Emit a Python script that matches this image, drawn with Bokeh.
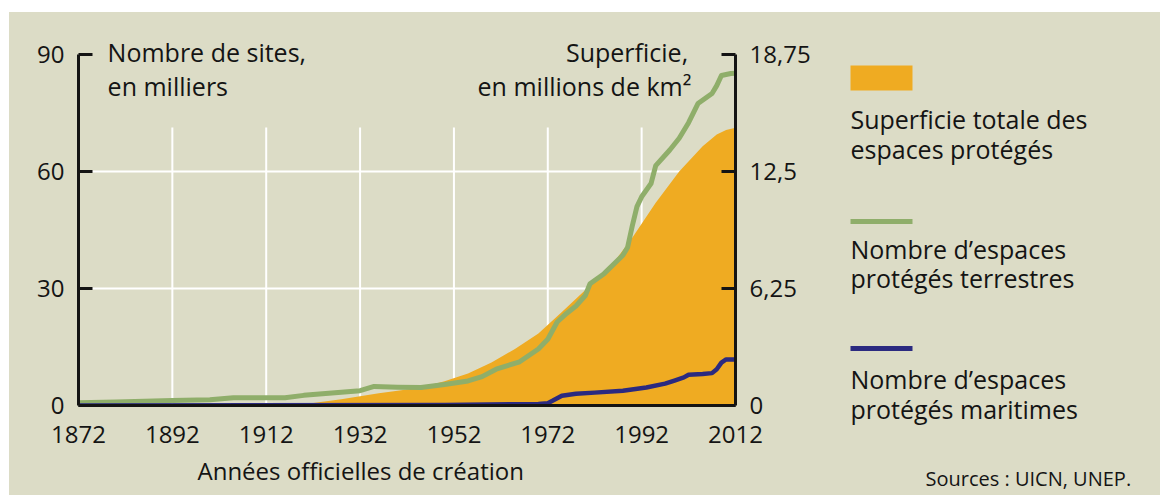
from bokeh.plotting import figure
from bokeh.models import (Range1d, LinearAxis, FixedTicker, Label, Spacer, Grid, Title)
from bokeh.layouts import row, column
from bokeh.embed import file_html
from bokeh.resources import INLINE

# ---------------- data ----------------
area_years = [1872, 1900, 1915, 1922, 1928, 1932, 1936, 1940, 1945, 1950, 1955, 1960, 1965,
              1970, 1975, 1980, 1985, 1990, 1995, 2000, 2005, 2008, 2010, 2012]
area_mkm2 = [0.0, 0.02, 0.06, 0.13, 0.33, 0.50, 0.65, 0.79, 0.96, 1.29, 1.71, 2.29, 3.02,
             3.85, 5.00, 6.17, 7.29, 8.96, 10.83, 12.50, 13.85, 14.48, 14.71, 14.83]

terr_years = [1872, 1880, 1892, 1900, 1905, 1916, 1920, 1926, 1932, 1935, 1940, 1945, 1950,
              1955, 1958, 1961, 1966, 1970, 1972, 1974, 1976, 1978, 1980, 1981, 1984, 1988,
              1989, 1990, 1991, 1992, 1994, 1995, 1998, 2000, 2002, 2004, 2007, 2008, 2009,
              2011, 2012]
terr_k = [0.7, 0.9, 1.3, 1.5, 2.0, 2.0, 2.6, 3.2, 3.8, 4.9, 4.7, 4.6, 5.4,
          6.3, 7.4, 9.3, 11.2, 14.5, 17.0, 21.4, 23.6, 25.5, 28.2, 31.2, 33.8, 38.5,
          40.5, 46.0, 51.0, 53.5, 56.9, 61.5, 65.5, 68.5, 72.5, 77.4, 80.0, 82.0, 84.6,
          85.1, 85.2]

mar_years = [1872, 1950, 1970, 1972, 1973, 1975, 1978, 1982, 1988, 1993, 1997, 1999, 2001,
             2002, 2005, 2007, 2008, 2009, 2010, 2012]
mar_k = [0.0, 0.1, 0.4, 0.6, 1.2, 2.5, 3.0, 3.3, 3.8, 4.6, 5.6, 6.4, 7.2,
         7.9, 8.1, 8.3, 9.3, 11.0, 11.8, 11.8]

year_ticks = [1872, 1892, 1912, 1932, 1952, 1972, 1992, 2012]
left_ticks = [0, 30, 60, 90]
right_ticks = [0, 6.25, 12.5, 18.75]
right_labels = ["0", "6,25", "12,5", "18,75"]
km2_per_k = 18.75 / 90.0

legend_texts = [["Superficie totale des", "espaces protégés"],
                ["Nombre d\u2019espaces", "protégés terrestres"],
                ["Nombre d\u2019espaces", "protégés maritimes"]]

# ---------------- style ----------------
BG = "#dcdcc6"
ORANGE = "#efab22"
GREEN = "#8fae6a"
BLUE = "#2b2a80"
INK = "#141414"
FONT = "Open Sans"
FS = "25px"
TICK_FS = "24px"

Y_TOP = 94.6  # headroom above the 90 tick for the axis captions

p = figure(width=811, height=483, output_backend="svg", toolbar_location=None,
           x_range=Range1d(1872, 2012), y_range=Range1d(0, Y_TOP),
           min_border_left=69, min_border_right=85, min_border_top=24, min_border_bottom=90,
           x_axis_type=None, y_axis_type=None)
p.title.visible = False
p.background_fill_color = BG
p.border_fill_color = BG
p.outline_line_color = None
p.extra_y_ranges = {"km2": Range1d(0, Y_TOP * km2_per_k)}

# vertical grid segments (only up to a limited height)
gx = year_ticks[1:-1]
p.segment(x0=gx, x1=gx, y0=[0] * len(gx), y1=[71.3] * len(gx), line_color="white", line_width=2)

# area
p.varea(x=area_years, y1=[0] * len(area_years), y2=area_mkm2, y_range_name="km2",
        fill_color=ORANGE, fill_alpha=1)
# lines
p.line(terr_years, terr_k, line_color=GREEN, line_width=5, line_join="round")
p.line(mar_years, mar_k, line_color=BLUE, line_width=4.5, line_join="round")

# axes
xax = LinearAxis(ticker=FixedTicker(ticks=year_ticks), major_tick_in=0, major_tick_out=0,
                 minor_tick_line_color=None, axis_line_width=3, axis_line_color=INK,
                 major_label_standoff=20, major_label_text_font=FONT,
                 major_label_text_font_size=TICK_FS, major_label_text_color=INK)
p.add_layout(xax, "below")

yax = LinearAxis(ticker=FixedTicker(ticks=left_ticks), bounds=(0, 90),
                 major_tick_in=14, major_tick_out=0,
                 major_tick_line_width=3, major_tick_line_color=INK,
                 minor_tick_line_color=None, axis_line_width=3, axis_line_color=INK,
                 major_label_standoff=14, major_label_text_font=FONT,
                 major_label_text_font_size=TICK_FS, major_label_text_color=INK)
p.add_layout(yax, "left")

rax = LinearAxis(y_range_name="km2", ticker=FixedTicker(ticks=right_ticks), bounds=(0, 18.75),
                 major_label_overrides={t: l for t, l in zip(right_ticks, right_labels)},
                 major_tick_in=14, major_tick_out=0, major_tick_line_width=3,
                 major_tick_line_color=INK, minor_tick_line_color=None,
                 axis_line_width=3, axis_line_color=INK, major_label_standoff=14,
                 major_label_text_font=FONT, major_label_text_font_size=TICK_FS,
                 major_label_text_color=INK)
p.add_layout(rax, "right")

# horizontal grid at 30 and 60
hg = Grid(dimension=1, ticker=FixedTicker(ticks=[30, 60]), grid_line_color="white", grid_line_width=2)
p.add_layout(hg, "center")

p.add_layout(Title(text="Années officielles de création", align="left", offset=119,
                   text_font=FONT, text_font_size="24px", text_font_style="normal",
                   text_color=INK, standoff=13), "below")


def lab(fig, x, y, t, align="left", size=FS):
    fig.add_layout(Label(x=x, y=y, text=t, text_font=FONT, text_font_size=size,
                         text_color=INK, text_align=align, text_baseline="middle"))


lab(p, 1878.2, 90.5, "Nombre de sites,")
lab(p, 1878.2, 81.8, "en milliers")
lab(p, 2001.9, 90.5, "Superficie,", align="right")
lab(p, 2002.6, 81.8, "en millions de km\u00b2", align="right")

# ---------------- legend panel ----------------
leg = figure(width=340, height=483, output_backend="svg", toolbar_location=None,
             x_range=Range1d(0, 340), y_range=Range1d(483, 0), min_border=0,
             x_axis_type=None, y_axis_type=None)
leg.title.visible = False
leg.background_fill_color = BG
leg.border_fill_color = BG
leg.outline_line_color = None
leg.xgrid.visible = False
leg.ygrid.visible = False

leg.quad(left=[30], right=[92], top=[53], bottom=[78], fill_color=ORANGE, line_color=None)
leg.segment(x0=[30, 30], x1=[92, 92], y0=[209, 336], y1=[209, 336],
            line_color=[GREEN, BLUE], line_width=5)

text_y = [(106, 136), (236, 265), (366, 396)]
for (l1, l2), (y1, y2) in zip(legend_texts, text_y):
    lab(leg, 30, y1, l1)
    lab(leg, 30, y2, l2)
lab(leg, 105, 466, "Sources : UICN, UNEP.", size="20px")

layout = column(Spacer(width=1160, height=12),
                row(Spacer(width=9, height=483),
                    row(p, column(leg), styles={"background-color": BG})))
open("out.html", "w").write(file_html(layout, INLINE))
